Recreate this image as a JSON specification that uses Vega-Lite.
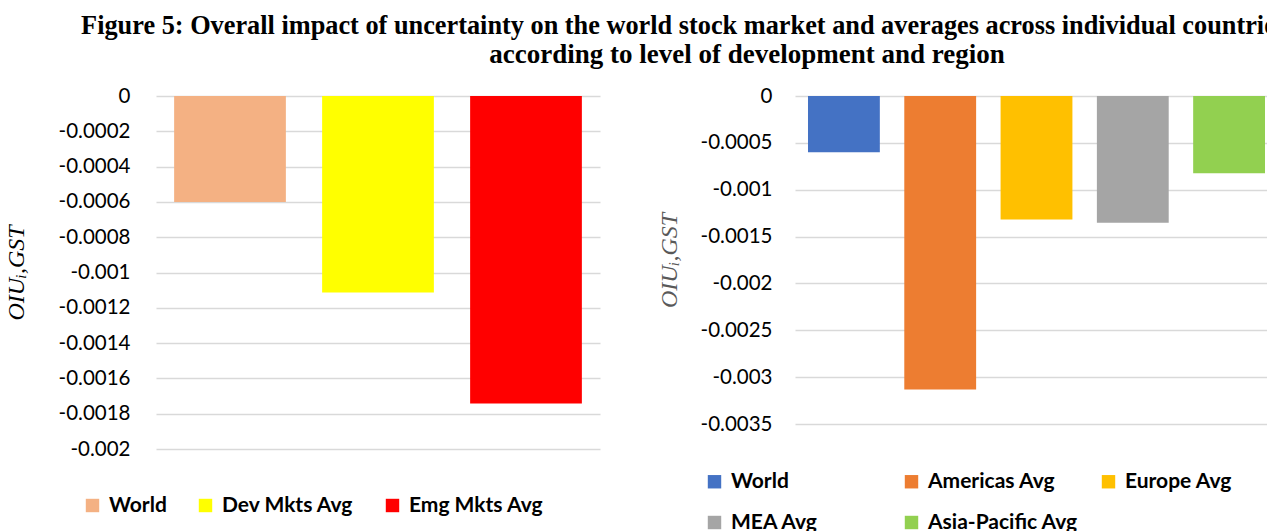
{
  "$schema": "https://vega.github.io/schema/vega-lite/v6.json",
  "padding": {"left": 4, "top": 12, "right": 0, "bottom": 0},
  "background": "white",
  "config": {
    "view": {"stroke": null},
    "font": "Lato",
    "axis": {
      "labelFont": "Lato", "labelFontSize": 20.5, "labelColor": "#000000",
      "gridColor": "#d9d9d9", "gridWidth": 1.5, "domain": false, "ticks": false,
      "titleFont": "Liberation Serif", "titleFontStyle": "italic", "titleFontWeight": "normal", "titleFontSize": 24
    },
    "legend": {
      "labelFont": "Lato", "labelFontWeight": "bold", "labelFontSize": 21, "labelColor": "#000000",
      "symbolType": "square", "symbolSize": 180, "symbolStrokeWidth": 0, "symbolOpacity": 1, "labelOffset": 6
    },
    "title": {"font": "Liberation Serif", "fontSize": 27, "fontWeight": "bold", "color": "#000000"}
  },
  "title": {"text": "Figure 5: Overall impact of uncertainty on the world stock market and averages across individual countries", "anchor": "start", "dx": 77, "offset": 2, "fontSize": 26.3},
  "vconcat": [
    {
      "title": {"text": "according to level of development and region", "anchor": "middle", "dx": 106, "offset": 17},
      "spacing": 57,
      "resolve": {"scale": {"color": "independent", "x": "independent", "y": "independent"}, "legend": {"color": "independent"}},
      "hconcat": [
        {
          "width": 444,
          "height": 353,
          "data": {"values": [
            {"series": "World", "value": -0.0006},
            {"series": "Dev Mkts Avg", "value": -0.001113},
            {"series": "Emg Mkts Avg", "value": -0.001742}
          ]},
          "mark": {"type": "bar"},
          "encoding": {
            "x": {"field": "series", "type": "nominal", "sort": null, "axis": null,
                  "scale": {"paddingInner": 0.245, "paddingOuter": 0.1225}},
            "y": {"field": "value", "type": "quantitative",
                  "scale": {"domain": [-0.002, 0], "nice": false, "zero": false},
                  "axis": {"values": [0, -0.0002, -0.0004, -0.0006, -0.0008, -0.001, -0.0012, -0.0014, -0.0016, -0.0018, -0.002],
                           "labelExpr": "'' + datum.value", "labelPadding": 26, "titlePadding": 30,
                           "title": "OIUᵢ,GST", "titleColor": "#000000"}},
            "color": {"field": "series", "type": "nominal", "sort": null,
                      "scale": {"domain": ["World", "Dev Mkts Avg", "Emg Mkts Avg"], "range": ["#F4B183", "#FFFF00", "#FF0000"]},
                      "legend": {"title": null, "orient": "none", "legendX": -74, "legendY": 399, "direction": "horizontal", "gridAlign": "none", "columnPadding": 28}}
          }
        },
        {
          "width": 483,
          "height": 328,
          "data": {"values": [
            {"series": "World", "value": -0.000599},
            {"series": "Americas Avg", "value": -0.003131},
            {"series": "Europe Avg", "value": -0.001318},
            {"series": "MEA Avg", "value": -0.001353},
            {"series": "Asia-Pacific Avg", "value": -0.000824}
          ]},
          "mark": {"type": "bar"},
          "encoding": {
            "x": {"field": "series", "type": "nominal", "sort": null, "axis": null,
                  "scale": {"paddingInner": 0.254, "paddingOuter": 0.135}},
            "y": {"field": "value", "type": "quantitative",
                  "scale": {"domain": [-0.0035, 0], "nice": false, "zero": false},
                  "axis": {"values": [0, -0.0005, -0.001, -0.0015, -0.002, -0.0025, -0.003, -0.0035],
                           "labelExpr": "'' + datum.value", "labelPadding": 23, "titlePadding": 19,
                           "title": "OIUᵢ,GST", "titleColor": "#595959"}},
            "color": {"field": "series", "type": "nominal", "sort": null,
                      "scale": {"domain": ["World", "Americas Avg", "Europe Avg", "MEA Avg", "Asia-Pacific Avg"], "range": ["#4472C4", "#ED7D31", "#FFC000", "#A5A5A5", "#92D050"]},
                      "legend": {"title": null, "orient": "none", "legendX": -91, "legendY": 375, "direction": "horizontal", "columns": 3, "gridAlign": "all", "columnPadding": 20, "rowPadding": 19}}
          }
        }
      ]
    }
  ]
}
